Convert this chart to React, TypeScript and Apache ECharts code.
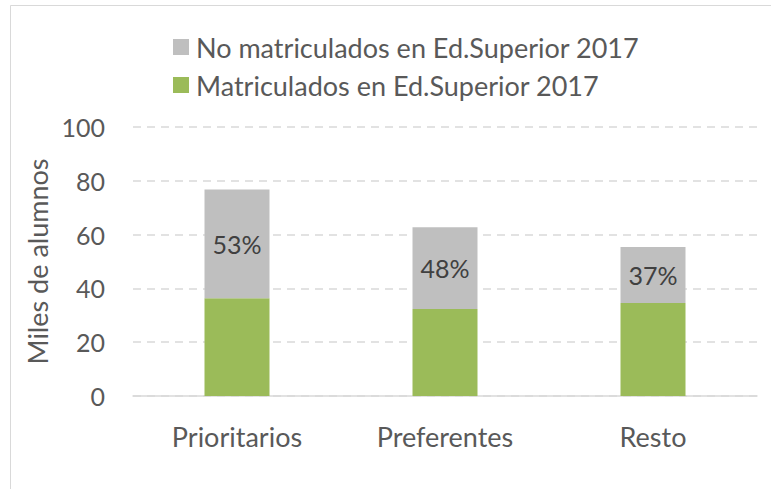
import React, { useEffect, useRef } from "react";
import * as echarts from "echarts";

const categories = ["Prioritarios", "Preferentes", "Resto"];
const matriculados = [36.3, 32.3, 34.6];
const noMatriculados = [40.5, 30.4, 20.8];
const pctLabels = ["53%", "48%", "37%"];
const yTicks = [0, 20, 40, 60, 80, 100];
const seriesNames = ["No matriculados en Ed.Superior 2017", "Matriculados en Ed.Superior 2017"];
const yTitle = "Miles de alumnos";

const FONT = "Lato";

export default function App() {
  const ref = useRef<HTMLDivElement>(null);
  useEffect(() => {
    const chart = echarts.init(ref.current!, null, { renderer: "svg" });
    chart.setOption({
      animation: false,
      backgroundColor: "#ffffff",
      textStyle: { fontFamily: FONT },
      graphic: [
        {
          type: "rect",
          shape: { x: 10.5, y: 5.5, width: 800, height: 520 },
          style: { fill: "none", stroke: "#d9d9d9", lineWidth: 1 },
          silent: true,
        },
      ],
      legend: {
        orient: "vertical",
        left: 173,
        top: 30,
        padding: 0,
        itemWidth: 16,
        itemHeight: 16,
        itemGap: 4,
        icon: "rect",
        data: [seriesNames[0], seriesNames[1]],
        textStyle: { fontFamily: FONT, fontSize: 27, color: "#595959", lineHeight: 34, padding: [0, 0, 0, 2] },
      },
      grid: { left: 133, right: 14, top: 127, bottom: 93, containLabel: false },
      xAxis: {
        type: "category",
        data: categories,
        axisLine: { lineStyle: { color: "#d9d9d9", width: 1.5 } },
        axisTick: { show: false },
        axisLabel: { fontFamily: FONT, fontSize: 27, color: "#595959", margin: 27 },
      },
      yAxis: {
        type: "value",
        min: 0,
        max: 100,
        interval: 20,
        name: yTitle,
        nameLocation: "middle",
        nameGap: 82,
        nameTextStyle: { fontFamily: FONT, fontSize: 27, color: "#595959" },
        axisLine: { show: false },
        axisTick: { show: false },
        splitLine: { lineStyle: { color: "#d9d9d9", type: [8, 6], width: 1.5 } },
        axisLabel: {
          fontFamily: FONT,
          fontSize: 25,
          color: "#595959",
          margin: 28,
          formatter: (v: number) => (yTicks.includes(v) ? String(v) : ""),
        },
      },
      series: [
        {
          name: seriesNames[1],
          type: "bar",
          stack: "total",
          barWidth: 65,
          data: matriculados,
          itemStyle: { color: "#9bbb59" },
        },
        {
          name: seriesNames[0],
          type: "bar",
          stack: "total",
          barWidth: 65,
          data: noMatriculados,
          itemStyle: { color: "#bfbfbf" },
          label: {
            show: true,
            position: "inside",
            fontFamily: FONT,
            fontSize: 25,
            color: "#404040",
            formatter: (p: any) => pctLabels[p.dataIndex],
          },
        },
      ],
    });
    return () => chart.dispose();
  }, []);
  return (
    <div
      ref={ref}
      style={{ position: "absolute", left: 0, top: 0, width: 771, height: 489 }}
    />
  );
}
